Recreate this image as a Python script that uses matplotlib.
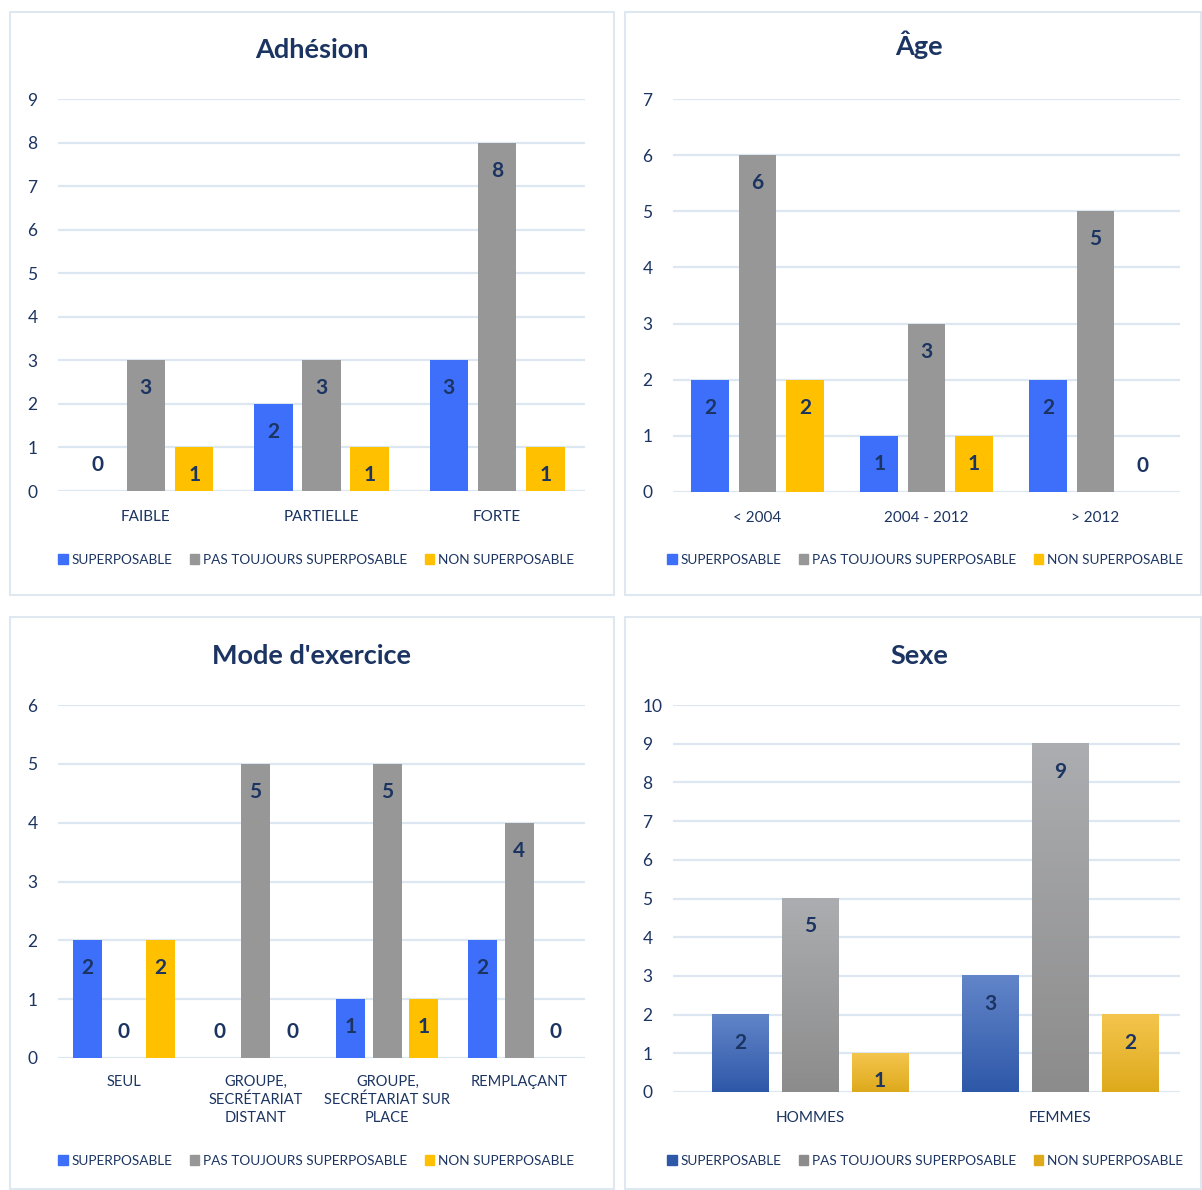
import numpy as np
import matplotlib
matplotlib.use("Agg")
import matplotlib.pyplot as plt
from matplotlib.patches import Rectangle, Patch
from matplotlib.colors import LinearSegmentedColormap

plt.rcParams['font.family'] = ['Lato', 'DejaVu Sans']

# Series names shared by all four charts
series = ["SUPERPOSABLE", "PAS TOUJOURS SUPERPOSABLE", "NON SUPERPOSABLE"]

adhesion_cats = ["FAIBLE", "PARTIELLE", "FORTE"]
adhesion_sup = [0, 2, 3]
adhesion_pas = [3, 3, 8]
adhesion_non = [1, 1, 1]

age_cats = ["< 2004", "2004 - 2012", "> 2012"]
age_sup = [2, 1, 2]
age_pas = [6, 3, 5]
age_non = [2, 1, 0]

mode_cats = ["SEUL", "GROUPE,\nSECRÉTARIAT\nDISTANT", "GROUPE,\nSECRÉTARIAT SUR\nPLACE", "REMPLAÇANT"]
mode_sup = [2, 0, 1, 2]
mode_pas = [0, 5, 5, 4]
mode_non = [2, 0, 1, 0]

sexe_cats = ["HOMMES", "FEMMES"]
sexe_sup = [2, 3]
sexe_pas = [5, 9]
sexe_non = [1, 2]

NAVY = "#1b3461"
GRID = "#dde7f1"
BORDER = "#dfe8f1"
colors = ["#3d6ffb", "#979797", "#ffc000"]
# top / bottom colours for the gradient bars of the last chart
grad = [("#6285c9", "#2e58a8"), ("#acadb0", "#8c8c8c"), ("#f4c54d", "#deaa1c")]

W, H = 1202, 1190
fig = plt.figure(figsize=(W / 100, H / 100), dpi=100)


def px_axes(x0, x1, ytop, ybot):
    return fig.add_axes([x0 / W, 1 - ybot / H, (x1 - x0) / W, (ybot - ytop) / H])


def panel_box(x0, x1, y0, y1):
    fig.patches.append(Rectangle((x0 / W, 1 - y1 / H), (x1 - x0) / W, (y1 - y0) / H,
                                 transform=fig.transFigure, fill=False,
                                 edgecolor=BORDER, lw=1.5))


def draw_chart(ax, cats, values, ymax, width, offset, gradient=False,
               label_pad=14, xlim=None):
    x = np.arange(len(cats))
    for i, vals in enumerate(values):
        pos = x + (i - 1) * offset
        bars = ax.bar(pos, vals, width, color=colors[i], zorder=2)
        if gradient:
            cmap = LinearSegmentedColormap.from_list("g%d" % i, [grad[i][1], grad[i][0]])
            for b in bars:
                b.set_alpha(0)
                bx, bw, bh = b.get_x(), b.get_width(), b.get_height()
                if bh > 0:
                    ax.imshow(np.linspace(0, 1, 100).reshape(-1, 1), cmap=cmap,
                              origin="lower", extent=[bx, bx + bw, 0, bh],
                              aspect="auto", zorder=2)
        for p, v in zip(pos, vals):
            dy = -28 if v > 0 else 26
            ax.annotate(str(v), (p, v), xytext=(0, dy), textcoords="offset pixels",
                        ha="center", va="center", fontsize=15, fontweight="bold",
                        color=NAVY, zorder=3)
    if xlim is None:
        xlim = (-0.5, len(cats) - 0.5)
    ax.set_xlim(*xlim)
    ax.set_ylim(0, ymax)
    ax.set_yticks(range(ymax + 1))
    ax.set_xticks(x)
    ax.set_xticklabels(cats, fontsize=11, color=NAVY, linespacing=1.35)
    ax.tick_params(axis="y", length=0, labelsize=12.5, labelcolor=NAVY, pad=22)
    ax.tick_params(axis="x", length=0, pad=label_pad)
    for lab in ax.get_yticklabels():
        lab.set_horizontalalignment("left")
    ax.grid(axis="y", color=GRID, lw=1.6, zorder=0)
    ax.set_axisbelow(True)
    for s in ax.spines.values():
        s.set_visible(False)
    ax.set_facecolor("none")


def legend_at(cx, cy, cols):
    handles = [Patch(color=c) for c in cols]
    fig.legend(handles, series, loc="center", bbox_to_anchor=(cx / W, 1 - cy / H),
               ncol=3, frameon=False, fontsize=9.8, labelcolor=NAVY,
               handlelength=0.7, handleheight=0.7, handletextpad=0.25,
               columnspacing=1.3)


def title(cx, cy, text):
    fig.text(cx / W, 1 - cy / H, text, ha="center", va="center",
             fontsize=19.5, fontweight="bold", color=NAVY)


# panel frames
panel_box(10, 614, 12, 595)
panel_box(625, 1201, 12, 595)
panel_box(10, 614, 617, 1189)
panel_box(625, 1201, 617, 1189)

ax1 = px_axes(58, 585, 99, 491)
draw_chart(ax1, adhesion_cats, [adhesion_sup, adhesion_pas, adhesion_non], 9, 0.22, 0.275)
title(312, 50, "Adhésion")
legend_at(316, 560, colors)

ax2 = px_axes(673, 1180, 99, 492)
draw_chart(ax2, age_cats, [age_sup, age_pas, age_non], 7, 0.224, 0.28)
title(919, 45, "Âge")
legend_at(925, 560, colors)

ax3 = px_axes(58, 585, 705, 1058)
draw_chart(ax3, mode_cats, [mode_sup, mode_pas, mode_non], 6, 0.22, 0.277, label_pad=12)
for lab in ax3.get_xticklabels():
    lab.set_fontsize(10.5)
title(312, 656, "Mode d'exercice")
legend_at(316, 1161, colors)

ax4 = px_axes(673, 1180, 705, 1092)
draw_chart(ax4, sexe_cats, [sexe_sup, sexe_pas, sexe_non], 10, 0.228, 0.28,
           gradient=True, xlim=(-0.548, 1.48))
title(919, 656, "Sexe")
legend_at(925, 1161, [g[1] for g in grad])

fig.savefig("out.png", dpi=100, facecolor="white")
